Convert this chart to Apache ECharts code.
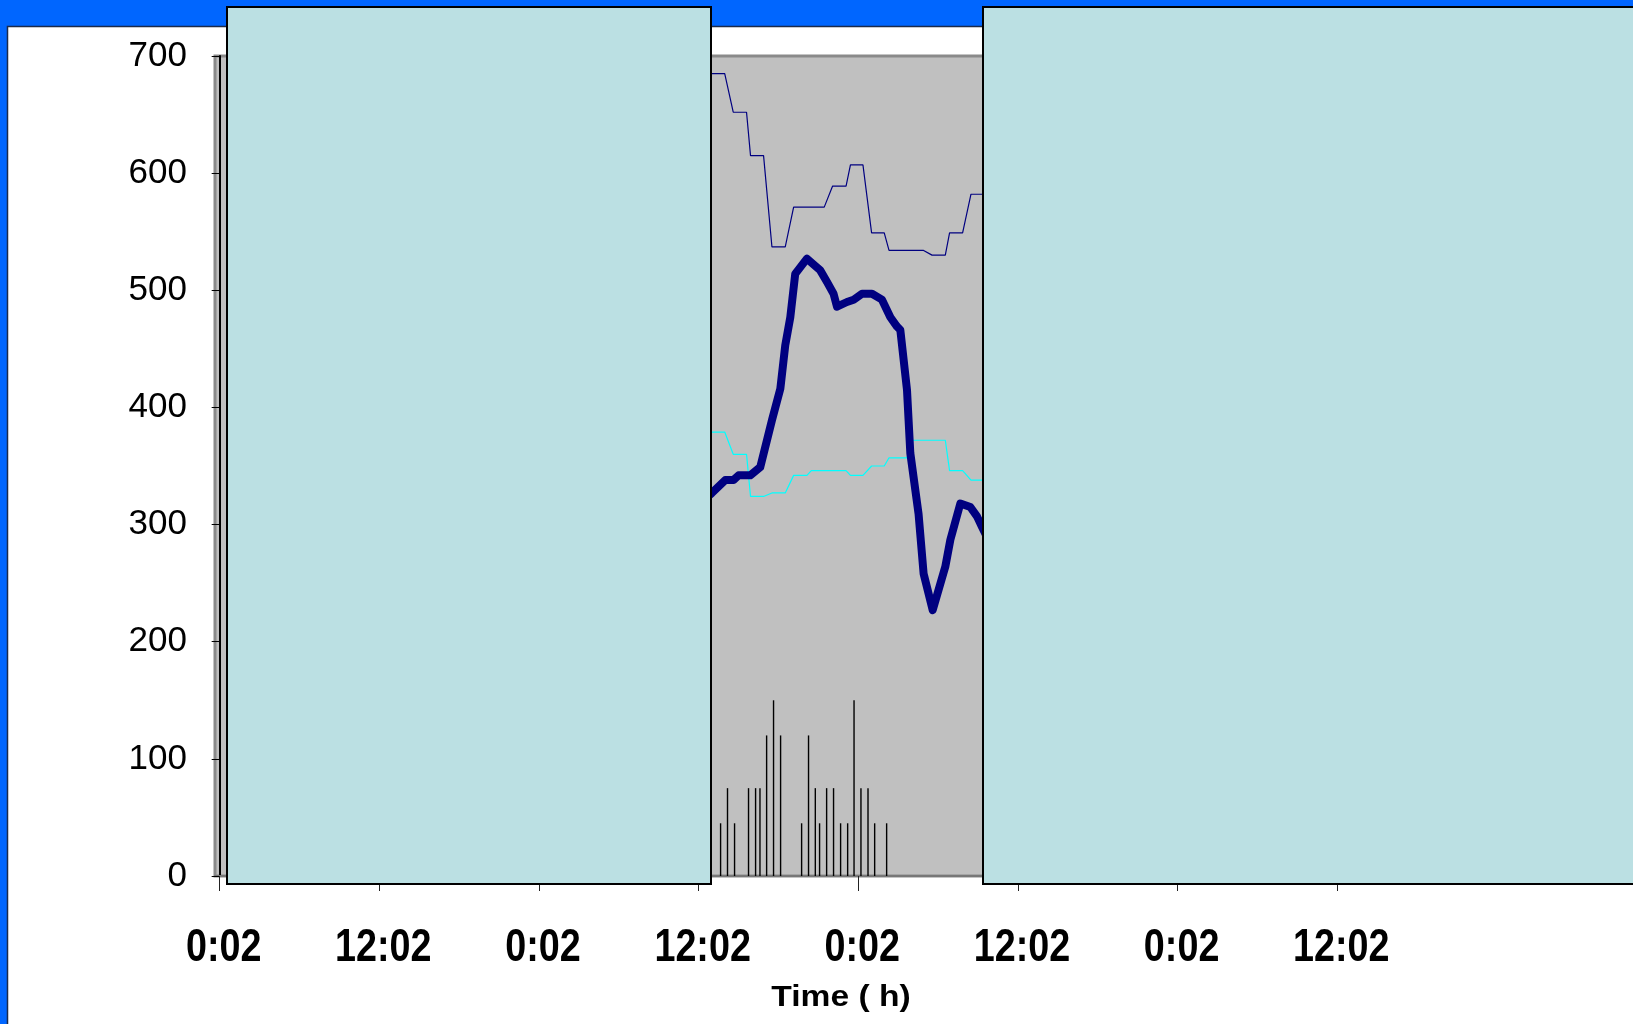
<!DOCTYPE html>
<html>
<head>
<meta charset="utf-8">
<script src="https://cdn.jsdelivr.net/npm/echarts@6/dist/echarts.min.js"></script>
<style>
html, body { margin: 0; padding: 0; background: #0066ff; }
#main { width: 1633px; height: 1024px; }
</style>
</head>
<body>
<div id="main"></div>
<script>
// x axis is in hours counted from the first "0:02" tick
const tickHours = [0, 12, 24, 36, 48, 60, 72, 84];
const tickLabels = ['0:02', '12:02', '0:02', '12:02', '0:02', '12:02', '0:02', '12:02'];

// the two thin limit lines change at the same time stamps
const limitHours = [36.1, 37.96, 38.6, 39.6, 39.9, 40.88, 41.51, 42.51, 43.14, 44.14, 44.47, 45.44, 46.07, 47.08,
    47.41, 48.35, 49.0, 49.95, 50.31, 51.66, 51.96, 52.91, 53.54, 54.54, 54.86, 55.84, 56.47, 58.3];
const upperLimit = [685, 685, 652, 652, 615, 615, 537, 537, 571, 571, 571, 571, 589, 589,
    607, 607, 549, 549, 534, 534, 534, 534, 530, 530, 549, 549, 582, 582];
const lowerLimit = [379, 379, 360, 360, 324, 324, 327, 327, 342, 342, 346, 346, 346, 346,
    342, 342, 350, 350, 357, 357, 372, 372, 372, 372, 346, 346, 338, 338];

// the thick line
const measHours = [36.1, 37.0, 38.0, 38.62, 39.0, 39.88, 40.63, 41.51, 42.14, 42.51, 42.89, 43.26, 44.14, 45.14,
    45.65, 46.14, 46.4, 47.15, 47.65, 48.28, 49.03, 49.78, 50.41, 50.91, 51.16, 51.66, 51.91, 52.53,
    52.91, 53.59, 54.54, 54.92, 55.67, 56.42, 56.92, 57.3, 58.3];
const measured = [318, 327, 338, 338, 342, 342, 349, 389, 416, 453, 477, 514, 527, 517,
    507, 497, 486, 490, 492, 497, 497, 492, 477, 469, 466, 415, 361, 309,
    258, 227, 264, 287, 318, 315, 307, 298, 275];

// the thin black bars at the bottom
const eventHours = [37.65, 38.17, 38.7, 39.75, 40.28, 40.61, 41.11, 41.63, 42.16, 43.74, 44.26, 44.77, 45.09,
    45.62, 46.14, 46.67, 47.2, 47.68, 48.2, 48.73, 49.23, 50.13];
const eventValues = [45, 75, 45, 75, 75, 75, 120, 150, 120, 45, 120, 75, 45,
    75, 75, 45, 45, 150, 75, 75, 45, 45];

function pairs(xs, ys) {
    return xs.map((x, i) => [x, ys[i]]);
}

let myChart = echarts.init(document.getElementById('main'));

let option = {
    backgroundColor: '#0066ff',
    animation: false,
    grid: {
        left: 215,
        top: 56,
        width: 1250,
        bottom: 148,
        show: true,
        backgroundColor: '#c0c0c0',
        borderColor: '#8a8a8a',
        borderWidth: 3
    },
    xAxis: {
        type: 'value',
        min: -0.35,
        max: 93.6,
        splitLine: { show: false },
        axisLine: { show: true, onZero: false, lineStyle: { color: '#777', width: 2 } },
        axisTick: { show: true, customValues: tickHours, length: 15, lineStyle: { color: '#222', width: 1 } },
        // the labels are narrow bold text, drawn below as scaled text at the axis positions
        axisLabel: { show: false, customValues: tickHours }
    },
    yAxis: {
        type: 'value',
        min: 0,
        max: 700,
        interval: 100,
        splitLine: { show: false },
        axisLine: { show: true, lineStyle: { color: '#000', width: 2 } },
        axisTick: { show: true, length: 8, lineStyle: { color: '#000', width: 1 } },
        axisLabel: {
            fontFamily: "'Liberation Sans', Arial, sans-serif",
            fontSize: 35,
            color: '#000',
            margin: 28
        }
    },
    series: [
        {
            name: 'events',
            type: 'bar',
            barWidth: 1.4,
            itemStyle: { color: '#000' },
            data: pairs(eventHours, eventValues)
        },
        {
            name: 'upper',
            type: 'line',
            showSymbol: false,
            lineStyle: { color: '#000080', width: 1.2 },
            data: pairs(limitHours, upperLimit)
        },
        {
            name: 'lower',
            type: 'line',
            showSymbol: false,
            lineStyle: { color: '#00ffff', width: 1.2 },
            data: pairs(limitHours, lowerLimit)
        },
        {
            name: 'measured',
            type: 'line',
            showSymbol: false,
            lineStyle: { color: '#000080', width: 8, join: 'round' },
            data: pairs(measHours, measured)
        }
    ],
    graphic: [
        // white panel behind the chart
        {
            id: 'panel', type: 'rect', z: -10, silent: true,
            shape: { x: 7.5, y: 26.5, width: 1640, height: 1010 },
            style: { fill: '#fff', stroke: '#1b2a4a', lineWidth: 1.5 }
        },
        // the two boxes covering parts of the plot
        {
            id: 'box1', type: 'rect', z: 100, silent: true,
            shape: { x: 227, y: 7, width: 484, height: 877 },
            style: { fill: '#bbe0e3', stroke: '#000', lineWidth: 2 }
        },
        {
            id: 'box2', type: 'rect', z: 100, silent: true,
            shape: { x: 983, y: 7, width: 700, height: 877 },
            style: { fill: '#bbe0e3', stroke: '#000', lineWidth: 2 }
        },
        {
            id: 'xname', type: 'text', z: 100, silent: true,
            x: 841, y: 998, scaleX: 1.12,
            style: {
                text: 'Time ( h)',
                fontFamily: "'Liberation Sans', Arial, sans-serif",
                fontWeight: 'bold',
                fontSize: 30,
                fill: '#000',
                align: 'center',
                verticalAlign: 'middle'
            }
        }
    ]
};
myChart.setOption(option);

// x tick labels, placed with the axis scale
let labelEls = tickHours.map((h, i) => ({
    id: 'xl' + i, type: 'text', z: 100, silent: true,
    x: myChart.convertToPixel({ xAxisIndex: 0 }, h) + 4,
    y: 948,
    scaleX: 0.82,
    style: {
        text: tickLabels[i],
        fontFamily: "'Liberation Sans', Arial, sans-serif",
        fontWeight: 'bold',
        fontSize: 46,
        fill: '#000',
        align: 'center',
        verticalAlign: 'middle'
    }
}));
myChart.setOption({ graphic: labelEls });
</script>
</body>
</html>
